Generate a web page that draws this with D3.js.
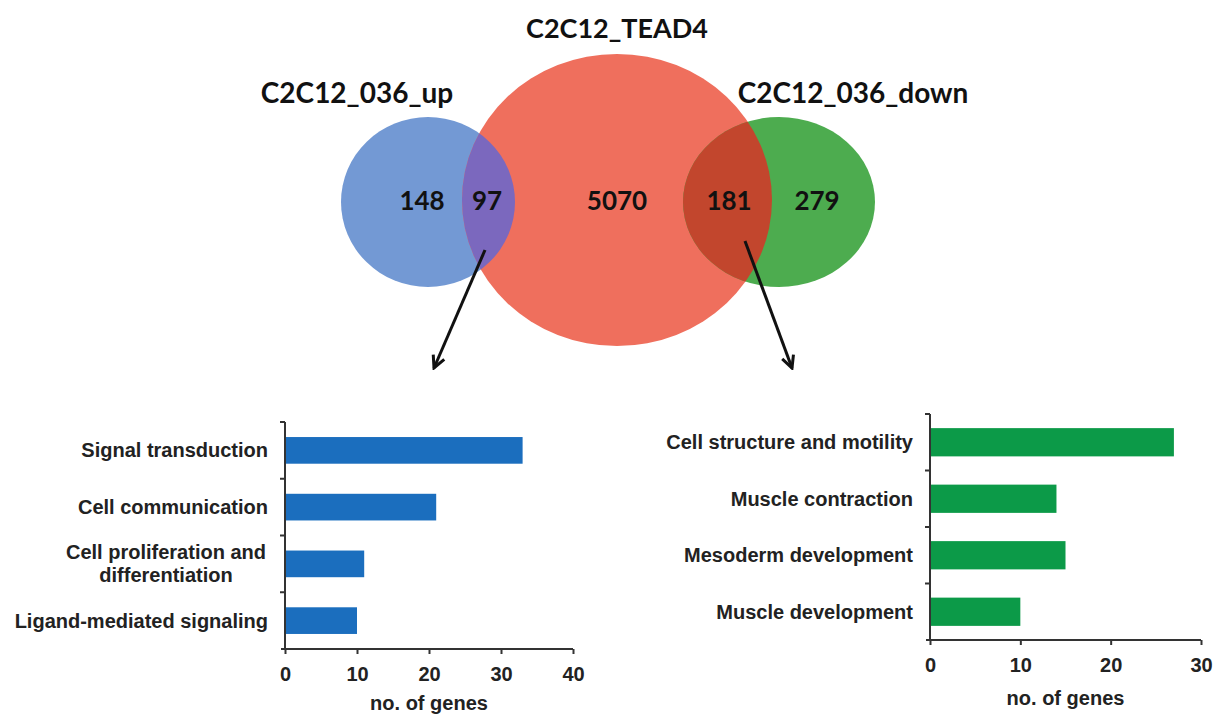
<html>
<head>
<script src="https://d3js.org/d3.v7.min.js"></script>
<style>
  body { margin: 0; background: #fff; }
</style>
</head>
<body>
<script>
// ---- data ----
var setNames = ["C2C12_036_up", "C2C12_TEAD4", "C2C12_036_down"];
var regionCounts = [148, 97, 5070, 181, 279];

var upCats = ["Signal transduction", "Cell communication", "Cell proliferation and differentiation", "Ligand-mediated signaling"];
var upVals = [33, 21, 11, 10];
var upTicks = [0, 10, 20, 30, 40];

var downCats = ["Cell structure and motility", "Muscle contraction", "Mesoderm development", "Muscle development"];
var downVals = [27, 14, 15, 10];
var downTicks = [0, 10, 20, 30];

var axisTitle = "no. of genes";

// ---- page ----
var width = 1219, height = 716;
var svg = d3.select("body").append("svg")
    .attr("width", width)
    .attr("height", height);
svg.append("rect").attr("width", width).attr("height", height).attr("fill", "#fff");

var defs = svg.append("defs");

// ---- venn ----
var circles = [
    {cx: 428, cy: 202, rx: 87, ry: 85, fill: "#7399d4", labelX: 357, labelY: 103, size: 28},
    {cx: 617, cy: 200, rx: 155, ry: 146, fill: "#ef6f5d", labelX: 617, labelY: 38, size: 27},
    {cx: 779, cy: 202, rx: 96, ry: 85, fill: "#4dac4f", labelX: 853, labelY: 103, size: 28}
];
var regionX = [422, 487, 617, 729, 817];

defs.append("clipPath").attr("id", "clip-tead")
  .append("ellipse")
    .attr("cx", circles[1].cx).attr("cy", circles[1].cy)
    .attr("rx", circles[1].rx).attr("ry", circles[1].ry);

var venn = svg.append("g");
venn.selectAll("ellipse.set")
    .data(circles).enter()
    .append("ellipse")
    .attr("class", "set")
    .attr("cx", d => d.cx).attr("cy", d => d.cy)
    .attr("rx", d => d.rx).attr("ry", d => d.ry)
    .attr("fill", d => d.fill);

// overlaps
var overlaps = [
    {c: circles[0], fill: "#7b68be"},
    {c: circles[2], fill: "#c2462d"}
];
venn.selectAll("ellipse.ov")
    .data(overlaps).enter()
    .append("ellipse")
    .attr("class", "ov")
    .attr("clip-path", "url(#clip-tead)")
    .attr("cx", d => d.c.cx).attr("cy", d => d.c.cy)
    .attr("rx", d => d.c.rx).attr("ry", d => d.c.ry)
    .attr("fill", d => d.fill);

venn.selectAll("text.setname")
    .data(setNames).enter()
    .append("text")
    .attr("class", "setname")
    .attr("x", (d, i) => circles[i].labelX)
    .attr("y", (d, i) => circles[i].labelY)
    .attr("text-anchor", "middle")
    .attr("font-family", "Lato, 'Open Sans', sans-serif")
    .attr("font-weight", "bold")
    .attr("font-size", (d, i) => circles[i].size)
    .attr("fill", "#111")
    .text(d => d);

venn.selectAll("text.count")
    .data(regionCounts).enter()
    .append("text")
    .attr("class", "count")
    .attr("x", (d, i) => regionX[i])
    .attr("y", 210)
    .attr("text-anchor", "middle")
    .attr("font-family", "Lato, 'Open Sans', sans-serif")
    .attr("font-weight", "bold")
    .attr("font-size", 26)
    .attr("fill", "#111")
    .text(d => d);

// arrows
defs.append("marker")
    .attr("id", "head")
    .attr("viewBox", "0 0 16 16")
    .attr("refX", 14).attr("refY", 8)
    .attr("markerWidth", 16).attr("markerHeight", 16)
    .attr("markerUnits", "userSpaceOnUse")
    .attr("orient", "auto")
  .append("path")
    .attr("d", "M2,2 L14,8 L2,14")
    .attr("fill", "none")
    .attr("stroke", "#111")
    .attr("stroke-width", 3);

var arrows = [
    {x1: 485, y1: 250, x2: 434, y2: 368},
    {x1: 745, y1: 241, x2: 792, y2: 368}
];
venn.selectAll("line.arrow")
    .data(arrows).enter()
    .append("line")
    .attr("x1", d => d.x1).attr("y1", d => d.y1)
    .attr("x2", d => d.x2).attr("y2", d => d.y2)
    .attr("stroke", "#111")
    .attr("stroke-width", 3)
    .attr("marker-end", "url(#head)");

// ---- bar charts ----
var barFont = "'Liberation Sans', Arial, sans-serif";

function barChart(opt) {
    var x = d3.scaleLinear()
        .domain([0, opt.ticks[opt.ticks.length - 1]])
        .range([opt.left, opt.right]);
    var y = d3.scaleBand()
        .domain(opt.cats)
        .range([opt.top, opt.bottom])
        .paddingInner(opt.pad)
        .paddingOuter(opt.pad / 2);

    var g = svg.append("g");

    g.selectAll("rect")
        .data(opt.cats).enter()
        .append("rect")
        .attr("x", x(0))
        .attr("y", d => y(d))
        .attr("width", (d, i) => x(opt.vals[i]) - x(0))
        .attr("height", y.bandwidth())
        .attr("fill", opt.color);

    // x axis
    var xAxis = g.append("g")
        .attr("transform", "translate(0," + opt.bottom + ")")
        .call(d3.axisBottom(x).tickValues(opt.ticks).tickSize(5).tickPadding(13).tickSizeOuter(0))
        .call(g => g.selectAll("line, path").attr("stroke", "#333").attr("stroke-width", 2))
        .call(g => g.selectAll("text")
            .attr("font-family", barFont)
            .attr("font-weight", "bold")
            .attr("font-size", 20)
            .attr("fill", "#222"));
    xAxis.select(".domain").attr("d", "M" + (opt.left - 4) + ",0H" + opt.right);

    g.append("text")
        .attr("x", (opt.left + opt.right) / 2)
        .attr("y", opt.titleY)
        .attr("text-anchor", "middle")
        .attr("font-family", barFont)
        .attr("font-weight", "bold")
        .attr("font-size", 20)
        .attr("fill", "#222")
        .text(axisTitle);

    // y axis with ticks between categories
    var step = y.step();
    var bounds = opt.cats.map(d => y(d) - step * opt.pad / 2);
    var yg = g.append("g");
    yg.append("line")
        .attr("x1", opt.left).attr("x2", opt.left)
        .attr("y1", opt.top).attr("y2", opt.bottom)
        .attr("stroke", "#333").attr("stroke-width", 2);
    yg.selectAll("line.tick")
        .data(bounds).enter()
        .append("line")
        .attr("class", "tick")
        .attr("x1", opt.left - 5).attr("x2", opt.left)
        .attr("y1", d => d).attr("y2", d => d)
        .attr("stroke", "#333").attr("stroke-width", 2);

    // category labels
    var labels = g.selectAll("text.cat")
        .data(opt.cats).enter()
        .append("text")
        .attr("class", "cat")
        .attr("font-family", barFont)
        .attr("font-weight", "bold")
        .attr("font-size", 20)
        .attr("fill", "#222");
    labels.each(function(d) {
        var t = d3.select(this);
        var cy = y(d) + y.bandwidth() / 2;
        var lines = opt.wrap[d];
        if (lines) {
            t.attr("text-anchor", "middle");
            lines.forEach((ln, k) => {
                t.append("tspan")
                    .attr("x", opt.wrapX)
                    .attr("y", cy + 7 + (k - (lines.length - 1) / 2) * 23)
                    .text(ln);
            });
        } else {
            t.attr("text-anchor", "end")
                .attr("x", opt.left - 17)
                .attr("y", cy + 7)
                .text(d);
        }
    });
}

barChart({
    cats: upCats, vals: upVals, ticks: upTicks, color: "#1b6ebe",
    left: 285, right: 573, top: 422, bottom: 649, pad: 0.53,
    titleY: 710,
    wrap: {"Cell proliferation and differentiation": ["Cell proliferation and", "differentiation"]},
    wrapX: 166
});

barChart({
    cats: downCats, vals: downVals, ticks: downTicks, color: "#0c9a48",
    left: 930, right: 1201, top: 414, bottom: 640, pad: 0.5,
    titleY: 705,
    wrap: {},
    wrapX: 0
});
</script>
</body>
</html>
